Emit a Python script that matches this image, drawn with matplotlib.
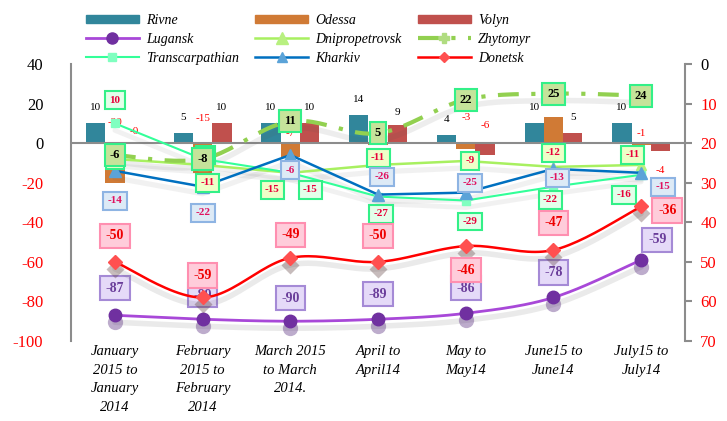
import matplotlib
matplotlib.use("Agg")
import matplotlib.pyplot as plt
import matplotlib.ticker as ticker
from matplotlib.lines import Line2D
from matplotlib.patches import Patch
from matplotlib.transforms import offset_copy
import numpy as np

plt.rcParams["font.family"] = ["Liberation Serif", "DejaVu Serif"]
plt.rcParams["axes.unicode_minus"] = False

months = [
    "January\n2015 to\nJanuary\n2014",
    "February\n2015 to\nFebruary\n2014",
    "March 2015\nto March\n2014.",
    "April to\nApril14",
    "May to\nMay14",
    "June15 to\nJune14",
    "July15 to\nJuly14",
]

# bars (left axis)
rivne = [10, 5, 10, 14, 4, 10, 10]
odessa = [-20, -15, -7, -1, -3, 13, -1]
volyn = [-0.3, 10, 10, 9, -6, 5, -4]

# lines (left axis)
lugansk = [-87, -89, -90, -89, -86, -78, -59]
dnipro = [-8, -11, -15, -11, -9, -12, -11]
zhytomyr = [-6, -8, 11, 5, 22, 25, 24]
transcarp = [10, -8, -15, -27, -29, -22, -16]
kharkiv = [-14, -22, -6, -26, -25, -13, -15]
# line (right axis, 0 .. -70)
donetsk = [-50, -59, -49, -50, -46, -47, -36]

# label offsets in pixels (dx, dy)
rivne_off = [(0, 16)] * 7
odessa_off = [(0, 21), (0, 25), (0, 10), (0, 16), (0, 26), (0, 14), (0, 10)]
volyn_off = [(0, 12), (0, 16), (0, 16), (0, 13), (0, 18), (0, 16), (0, -27)]
lugansk_off = [(0, 27), (0, 24), (0, 23), (0, 25), (0, 25), (0, 25), (16, 20)]
donetsk_off = [(0, 26), (0, 22), (0, 23), (0, 26), (0, -24), (0, 27), (26, -4)]
kharkiv_off = [(0, -30), (0, -26), (0, -15), (4, 18), (4, 10), (4, -9), (22, -14)]
transc_off = [(0, 23), (3, 4), (20, -17), (3, -17), (4, -21), (-3, -13), (-17, -20)]
dnipro_off = [(0, -1), (5, -18), (-18, -17), (0, 7), (4, 0), (0, 14), (-9, 10)]
zhyt_off = [(0, 0)] * 7


def smooth(xs, ys, n=24):
    pts = np.column_stack([xs, ys]).astype(float)
    p = np.vstack([pts[0], pts, pts[-1]])
    out = []
    t = np.linspace(0, 1, n, endpoint=False)[:, None]
    for i in range(1, len(p) - 2):
        p0, p1, p2, p3 = p[i - 1], p[i], p[i + 1], p[i + 2]
        c1 = p1 + (p2 - p0) / 6
        c2 = p2 - (p3 - p1) / 6
        out.append((1 - t) ** 3 * p1 + 3 * (1 - t) ** 2 * t * c1
                   + 3 * (1 - t) * t ** 2 * c2 + t ** 3 * p2)
    out.append(pts[-1:])
    s = np.vstack(out)
    return s[:, 0], s[:, 1]


x = np.arange(len(months))
fig = plt.figure(figsize=(7.27, 4.21), dpi=100)
ax = fig.add_axes([0.0977, 0.19, 0.8446, 0.658])
ax2 = ax.twinx()


def shade(axis, xs, ys, lw=0, marker=None, ms=0, dy=-7, alpha=0.18, color="#555555"):
    tr = offset_copy(axis.transData, fig=fig, x=0, y=dy, units="dots")
    if lw:
        axis.plot(xs, ys, color=color, lw=lw + 2, alpha=alpha, transform=tr,
                  solid_capstyle="round", zorder=3)
    if marker:
        axis.plot(xs, ys, ls="none", marker=marker, ms=ms + 2, color=color,
                  mec="none", alpha=alpha + 0.15, transform=tr, zorder=3)


# bars
w = 0.22
ax.bar(x - w, rivne, w, color="#31869B", zorder=2)
ax.bar(x, odessa, w, color="#D07A35", zorder=2)
ax.bar(x + w, volyn, w, color="#C0504D", zorder=2)


def bar_labels(pos, vals, offs):
    for xi, v, (dx, dy) in zip(pos, vals, offs):
        ax.annotate(f"{v:.0f}", (xi, max(v, 0)), xytext=(dx, dy),
                    textcoords="offset pixels", ha="center", va="center",
                    fontsize=8, color="#FF0000" if v < 0 else "black", zorder=3)


bar_labels(x - w, rivne, rivne_off)
bar_labels(x, odessa, odessa_off)
bar_labels(x + w, volyn, volyn_off)

ax.axhline(0, color="#8C8C8C", lw=1.5, zorder=2.5)

# lines
sx, sy = smooth(x, lugansk)
shade(ax, sx, sy, lw=2, alpha=0.12)
shade(ax, x, lugansk, marker="o", ms=9, color="#5A3080", alpha=0.25)
ax.plot(sx, sy, color="#A848D8", lw=2, zorder=4)
ax.plot(x, lugansk, ls="none", marker="o", ms=9, color="#7030A0", zorder=4)

shade(ax, x, dnipro, lw=1.8, alpha=0.08)
ax.plot(x, dnipro, color="#A8F060", lw=1.8, marker="^", ms=7,
        mfc="#B8F080", mec="#B8F080", zorder=4)

sx, sy = smooth(x, zhytomyr)
shade(ax, sx, sy, lw=2, alpha=0.1)
ax.plot(sx, sy, color="#92D050", lw=3, ls=(0, (5, 3, 1, 3)), zorder=4)

shade(ax, x, transcarp, lw=1.5, alpha=0.08)
ax.plot(x, transcarp, color="#33FF99", lw=1.5, marker="s", ms=6,
        mfc="#80FFC0", mec="#80FFC0", zorder=4)

shade(ax, x, kharkiv, lw=1.8, alpha=0.08)
ax.plot(x, kharkiv, color="#0070C0", lw=1.8, marker="^", ms=8,
        mfc="#5BA3D8", mec="#5BA3D8", zorder=4)

sx, sy = smooth(x, donetsk)
shade(ax2, sx, sy, lw=2, alpha=0.12)
shade(ax2, x, donetsk, marker="D", ms=7, color="#604040", alpha=0.2)
ax2.plot(sx, sy, color="#FF0000", lw=1.8, zorder=4)
ax2.plot(x, donetsk, ls="none", marker="D", ms=7, color="#FF5050", zorder=4)


def box_labels(axis, vals, offs, fc, ec, tc, size=8):
    for xi, v, (dx, dy) in zip(x, vals, offs):
        axis.annotate(f"{v:.0f}", (xi, v), xytext=(dx, dy),
                      textcoords="offset pixels", ha="center", va="center",
                      fontsize=size, fontweight="bold", color=tc, zorder=6,
                      bbox=dict(boxstyle="square,pad=0.4", fc=fc, ec=ec, lw=1.5))


box_labels(ax, transcarp, transc_off, "#E3FFEA", "#33F088", "#E8003A")
box_labels(ax, dnipro, dnipro_off, "#EEFFC8", "#33F088", "#E8003A")
box_labels(ax, kharkiv, kharkiv_off, "#DDEAF6", "#8EB4E3", "#E0115F")
box_labels(ax, zhytomyr, zhyt_off, "#C5E39A", "#33F088", "black", size=9)
box_labels(ax, lugansk, lugansk_off, "#E5DAF8", "#A58AD6", "#6A3D9A", size=10)
box_labels(ax2, donetsk, donetsk_off, "#FFCCDA", "#FF8FB0", "#EE0000", size=10)

# axes
ax.set_xlim(-0.5, 6.5)
ax.set_ylim(-100, 40)
ax.set_yticks(range(-100, 41, 20))
ax2.set_ylim(-70, 0)
ax2.set_yticks(range(-70, 1, 10))
ax2.yaxis.set_major_formatter(ticker.FuncFormatter(lambda v, p: f"{abs(v):.0f}"))

for a in (ax, ax2):
    a.spines["top"].set_visible(False)
    a.spines["bottom"].set_visible(False)
    for s in ("left", "right"):
        a.spines[s].set_color("#8C8C8C")
        a.spines[s].set_linewidth(1.5)
ax.spines["right"].set_visible(False)
ax2.spines["left"].set_visible(False)

ax.tick_params(axis="y", length=0, pad=20, labelsize=12)
ax2.tick_params(axis="y", length=5, width=1.5, color="#8C8C8C", pad=6, labelsize=12)
for lab, v in zip(ax.get_yticklabels(), range(-100, 41, 20)):
    lab.set_color("#FF0000" if v < 0 else "black")
for lab, v in zip(ax2.get_yticklabels(), range(-70, 1, 10)):
    lab.set_color("#FF0000" if v < 0 else "black")

ax.set_xticks(x)
ax.set_xticklabels(months, fontsize=10.5, style="italic", va="top",
                   linespacing=1.55)
ax.tick_params(axis="x", length=0, pad=3)

# legend
handles = [
    Patch(color="#31869B", label="Rivne"),
    Line2D([0], [0], color="#A848D8", lw=2, marker="o", ms=8, mfc="#7030A0",
           mec="#7030A0", label="Lugansk"),
    Line2D([0], [0], color="#33FF99", lw=1.5, marker="s", ms=6, mfc="#80FFC0",
           mec="#80FFC0", label="Transcarpathian"),
    Patch(color="#D07A35", label="Odessa"),
    Line2D([0], [0], color="#A8F060", lw=1.8, marker="^", ms=8, mfc="#B8F080",
           mec="#B8F080", label="Dnipropetrovsk"),
    Line2D([0], [0], color="#0070C0", lw=1.8, marker="^", ms=7, mfc="#5BA3D8",
           mec="#5BA3D8", label="Kharkiv"),
    Patch(color="#C0504D", label="Volyn"),
    Line2D([0], [0], color="#92D050", lw=3, ls=(0, (5, 3, 1, 3)), marker="P",
           ms=7, mfc="#B0DC80", mec="#B0DC80", label="Zhytomyr"),
    Line2D([0], [0], color="#FF0000", lw=1.8, marker="D", ms=5, mfc="#FF5050",
           mec="#FF5050", label="Donetsk"),
]
fig.legend(handles=handles, ncol=3, loc="upper left",
           bbox_to_anchor=(0.105, 0.99), frameon=False,
           prop=dict(family="Liberation Serif", style="italic", size=10),
           handlelength=3.8, handleheight=0.55, labelspacing=0.42,
           columnspacing=1.2, handletextpad=0.5, borderaxespad=0.3)

fig.savefig("out.png", dpi=100)
